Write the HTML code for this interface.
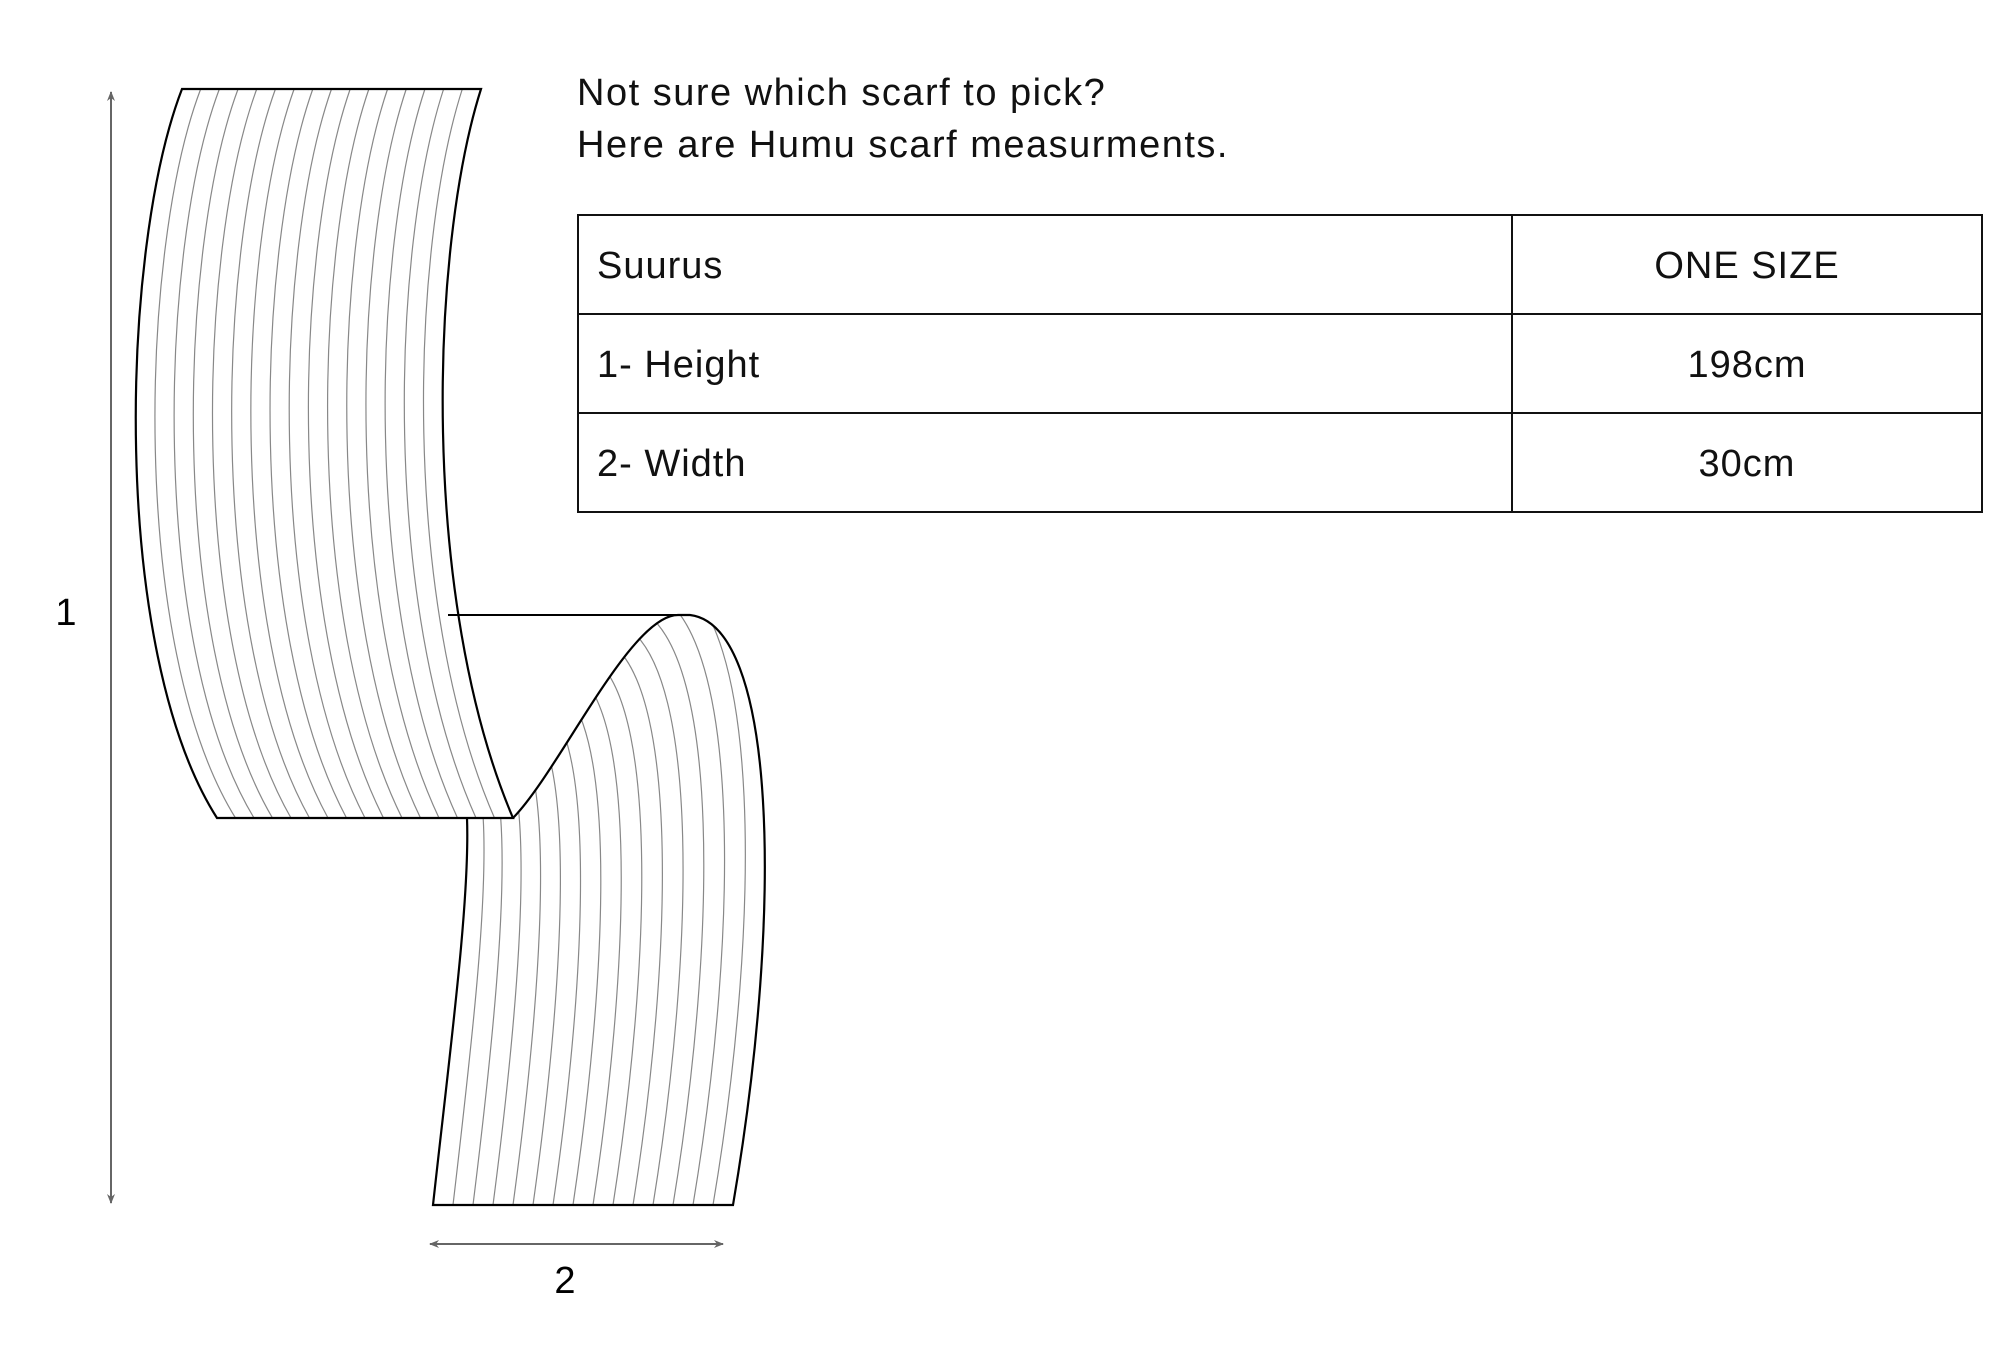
<!DOCTYPE html>
<html><head><meta charset="utf-8"><style>
html,body{margin:0;padding:0;background:#fff;}
body{width:2000px;height:1372px;position:relative;overflow:hidden;font-family:"Liberation Sans",sans-serif;color:#111;}
.t{position:absolute;font-size:38px;letter-spacing:1.5px;white-space:nowrap;}
table{position:absolute;left:577px;top:214px;border-collapse:collapse;font-size:38px;letter-spacing:1px;}
td{border:2px solid #111;height:93px;padding:0;padding-top:4px;}
</style></head><body>
<svg id="s" width="2000" height="1372" style="position:absolute;left:0;top:0">
<defs>
<marker id="a" markerWidth="10" markerHeight="10" refX="9" refY="5" orient="auto-start-reverse" markerUnits="userSpaceOnUse"><path d="M0,1 L10,5 L0,9 L3,5 Z" fill="#666"/></marker>
<clipPath id="cl"><path d="M467,818 L513,818 C560,770 630,615 678,615 L690,615 C775,625 785,900 732,1205 L433,1205 C450,1050 470,900 467,818 Z"/></clipPath>
</defs>
<g id="top"></g>
<g id="low" clip-path="url(#cl)"></g>
<path d="M182,89 L481,89 C430,250 420,600 513,818 L217,818 C110,650 120,250 182,89 Z" fill="none" stroke="#000" stroke-width="2.2"/>
<path d="M448,615 L690,615" stroke="#000" stroke-width="2" fill="none"/>
<path d="M467,818 C470,900 450,1050 433,1205 L733,1205 C785,900 775,625 690,615 L678,615 C630,615 560,770 513,818" fill="none" stroke="#000" stroke-width="2.2"/>
<line x1="111" y1="92" x2="111" y2="1203" stroke="#666" stroke-width="2" marker-start="url(#a)" marker-end="url(#a)"/>
<line x1="430" y1="1244" x2="723" y2="1244" stroke="#666" stroke-width="2" marker-start="url(#a)" marker-end="url(#a)"/>
<text x="66" y="625" font-size="38" text-anchor="middle" font-family="Liberation Sans, sans-serif">1</text>
<text x="565" y="1293" font-size="38" text-anchor="middle" font-family="Liberation Sans, sans-serif">2</text>
</svg>
<div class="t" style="left:577px;top:72px">Not sure which scarf to pick?</div>
<div class="t" style="left:577px;top:124px">Here are Humu scarf measurments.</div>
<table>
<tr><td style="width:914px;padding-left:18px">Suurus</td><td style="width:468px;text-align:center">ONE SIZE</td></tr>
<tr><td style="padding-left:18px">1- Height</td><td style="text-align:center">198cm</td></tr>
<tr><td style="padding-left:18px">2- Width</td><td style="text-align:center">30cm</td></tr>
</table>
<script>
var ns="http://www.w3.org/2000/svg";
function L(a,b,t){return a+(b-a)*t;}
var g=document.getElementById("top"),n=16;
var TA=[[182,89],[120,250],[110,650],[217,818]],TB=[[481,89],[430,250],[420,600],[513,818]];
for(var i=1;i<n;i++){var t=i/n,q=[];for(var k=0;k<4;k++)q.push([L(TA[k][0],TB[k][0],t),L(TA[k][1],TB[k][1],t)]);
var d="M"+q[0]+" C"+q[1]+" "+q[2]+" "+q[3];
var p=document.createElementNS(ns,"path");p.setAttribute("d",d);p.setAttribute("fill","none");p.setAttribute("stroke","#888");p.setAttribute("stroke-width","1.2");g.appendChild(p);}
var g2=document.getElementById("low"),m=15;
var A=[[467,818],[470,900],[450,1050],[433,1205]],B=[[688,560],[780,600],[785,900],[733,1205]];
for(var i=1;i<m;i++){var t=i/m,q=[];for(var k=0;k<4;k++)q.push([L(A[k][0],B[k][0],t),L(A[k][1],B[k][1],t)]);
var d="M"+q[0]+" C"+q[1]+" "+q[2]+" "+q[3];
var p=document.createElementNS(ns,"path");p.setAttribute("d",d);p.setAttribute("fill","none");p.setAttribute("stroke","#888");p.setAttribute("stroke-width","1.2");g2.appendChild(p);}
</script>
</body></html>
